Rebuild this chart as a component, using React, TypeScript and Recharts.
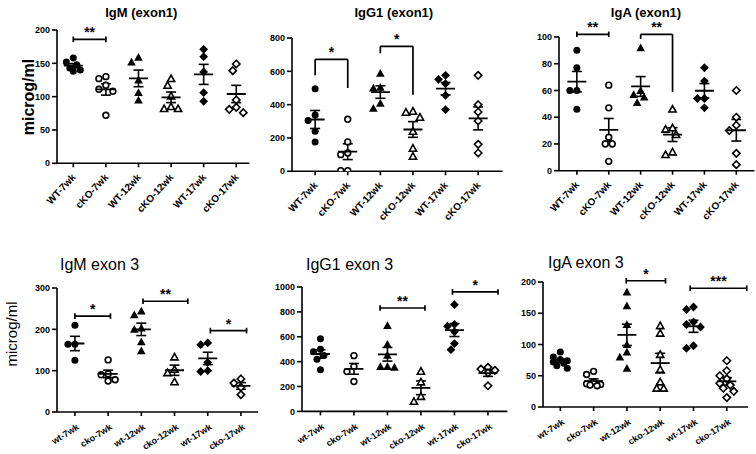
import React from 'react';
import { ScatterChart, Scatter, XAxis, YAxis, ErrorBar, ReferenceLine } from 'recharts';

const FONT = '"Liberation Sans", Arial, Helvetica, sans-serif';

// group names
const exon1Groups = ['WT-7wk', 'cKO-7wk', 'WT-12wk', 'cKO-12wk', 'WT-17wk', 'cKO-17wk'];
const exon3Groups = ['wt-7wk', 'cko-7wk', 'wt-12wk', 'cko-12wk', 'wt-17wk', 'cko-17wk'];

// individual animals, microg/ml
const igmExon1 = [
  [158, 152, 148, 143, 140, 138],
  [130, 127, 117, 111, 108, 72],
  [159, 152, 125, 106, 95],
  [127, 117, 101, 85, 82, 82],
  [171, 160, 137, 106, 93],
  [149, 139, 95, 84, 81, 76],
];
const igg1Exon1 = [
  [496, 338, 305, 240, 176],
  [312, 176, 110, 100, 4, 4],
  [588, 504, 500, 408, 378],
  [360, 354, 324, 240, 138, 90],
  [576, 552, 526, 456, 370],
  [576, 400, 356, 302, 162, 110],
];
const igaExon1 = [
  [90, 77, 60, 60, 46],
  [64, 47, 25, 20, 20, 7],
  [92, 60, 57, 55, 51],
  [46, 32, 31, 27, 14, 12],
  [77, 67, 54, 54, 47],
  [60, 40, 34, 30, 13, 4.5],
];
const igmExon3 = [
  [210, 164, 164, 125],
  [126, 92, 90, 78, 75],
  [244, 235, 203, 200, 170, 148],
  [133, 103, 95, 73],
  [167, 163, 120, 100, 98],
  [80, 70, 60, 42],
];
const igg1Exon3 = [
  [584, 500, 480, 450, 420, 335],
  [448, 360, 320, 240],
  [690, 540, 450, 360, 360, 355],
  [322, 236, 120, 80],
  [858, 700, 685, 640, 545, 496],
  [354, 340, 330, 310, 206],
];
const igaExon3 = [
  [88, 80, 76, 74, 72, 70, 66, 62],
  [57, 52, 40, 37, 36, 35, 34],
  [184, 162, 132, 100, 88, 80, 62],
  [130, 118, 84, 60, 40, 30, 30],
  [160, 156, 136, 132, 128, 98, 94],
  [74, 58, 50, 45, 38, 35, 30, 25, 15],
];

// y ticks
const igmExon1Ticks = [0, 50, 100, 150, 200];
const igg1Exon1Ticks = [0, 200, 400, 600, 800];
const igaExon1Ticks = [0, 20, 40, 60, 80, 100];
const igmExon3Ticks = [0, 100, 200, 300];
const igg1Exon3Ticks = [0, 200, 400, 600, 800, 1000];
const igaExon3Ticks = [0, 50, 100, 150, 200];

// significance brackets (from/to in group index, y in microg/ml)
type Star = { from: number; to: number; y: number; text: string; leftEnd?: number; rightEnd?: number };
const igmExon1Stars: Star[] = [{ from: 0, to: 1, y: 186, text: '**' }];
const igg1Exon1Stars: Star[] = [
  { from: 0, to: 1, y: 672, leftEnd: 576, rightEnd: 500, text: '*' },
  { from: 2, to: 3, y: 750, leftEnd: 708, rightEnd: 460, text: '*' },
];
const igaExon1Stars: Star[] = [
  { from: 0, to: 1, y: 102, text: '**' },
  { from: 2, to: 3, y: 102, leftEnd: 98.5, rightEnd: 59, text: '**' },
];
const igmExon3Stars: Star[] = [
  { from: 0, to: 1.07, y: 232, text: '*' },
  { from: 2.05, to: 3.4, y: 268, text: '**' },
  { from: 4.08, to: 5.17, y: 197, text: '*' },
];
const igg1Exon3Stars: Star[] = [
  { from: 1.78, to: 3.12, y: 831, text: '**' },
  { from: 3.94, to: 5.3, y: 960, text: '*' },
];
const igaExon3Stars: Star[] = [
  { from: 1.98, to: 3.16, y: 202, text: '*' },
  { from: 3.9, to: 5.6, y: 190, text: '***' },
];

type PanelCfg = {
  groups: string[];
  values: number[][];
  ticks: number[];
  stars: Star[];
  L: number; T: number; R: number; B: number;
  xMin: number; xMax: number;
  top: boolean;
};

const panels: PanelCfg[] = [
  { groups: exon1Groups, values: igmExon1, ticks: igmExon1Ticks, stars: igmExon1Stars, L: 57, T: 30, R: 249.3, B: 163.3, xMin: -0.5, xMax: 5.4, top: true },
  { groups: exon1Groups, values: igg1Exon1, ticks: igg1Exon1Ticks, stars: igg1Exon1Stars, L: 291.7, T: 37.7, R: 502.3, B: 171, xMin: -0.71, xMax: 5.75, top: true },
  { groups: exon1Groups, values: igaExon1, ticks: igaExon1Ticks, stars: igaExon1Stars, L: 559.3, T: 37.3, R: 754.8, B: 171, xMin: -0.56, xMax: 5.57, top: true },
  { groups: exon3Groups, values: igmExon3, ticks: igmExon3Ticks, stars: igmExon3Stars, L: 56.7, T: 287.7, R: 257.9, B: 411.7, xMin: -0.54, xMax: 5.52, top: false },
  { groups: exon3Groups, values: igg1Exon3, ticks: igg1Exon3Ticks, stars: igg1Exon3Stars, L: 301.7, T: 287.3, R: 507.1, B: 411.7, xMin: -0.55, xMax: 5.58, top: false },
  { groups: exon3Groups, values: igaExon3, ticks: igaExon3Ticks, stars: igaExon3Stars, L: 542.7, T: 282.3, R: 747.8, B: 407.3, xMin: -0.52, xMax: 5.64, top: false },
];

const mean = (v: number[]) => v.reduce((a, b) => a + b, 0) / v.length;
const sem = (v: number[]) => {
  const m = mean(v);
  const sd = Math.sqrt(v.reduce((a, b) => a + (b - m) ** 2, 0) / (v.length - 1));
  return sd / Math.sqrt(v.length);
};

// simple beeswarm: push overlapping dots sideways, but keep the cluster narrow
// (dense groups are allowed to overlap, like the original). Offsets in group units.
function swarm(values: number[], pxPerUnit: number, pxPerCat: number) {
  const order = values.map((_, i) => i).sort((a, b) => values[b] - values[a]);
  const placed: { dx: number; py: number }[] = [];
  const out = new Array(values.length).fill(0);
  for (const i of order) {
    const py = values[i] * pxPerUnit;
    let best = 0;
    let bestGap = -1;
    for (let k = 0; k < 5; k++) {
      const dx = (k % 2 ? -1 : 1) * Math.ceil(k / 2) * 3.5;
      const gap = placed.reduce((g, p) => Math.min(g, Math.hypot(p.dx - dx, p.py - py)), 99);
      if (gap >= 7) {
        best = dx;
        break;
      }
      if (gap > bestGap) {
        bestGap = gap;
        best = dx;
      }
    }
    placed.push({ dx: best, py });
    out[i] = best / pxPerCat;
  }
  return out;
}

const marker = (kind: string, filled: boolean) => (p: any) => {
  const { cx, cy } = p;
  const fill = filled ? '#000' : '#fff';
  const sw = filled ? 0 : 1.6;
  if (kind === 'circle') {
    return <circle cx={cx} cy={cy} r={filled ? 3.5 : 2.9} fill={fill} stroke="#000" strokeWidth={sw} />;
  }
  if (kind === 'triangle') {
    const s = filled ? 4.3 : 3.6;
    return (
      <polygon
        points={`${cx},${cy - s} ${cx + s},${cy + s * 0.8} ${cx - s},${cy + s * 0.8}`}
        fill={fill} stroke="#000" strokeWidth={sw} strokeLinejoin="miter"
      />
    );
  }
  const d = filled ? 4.4 : 3.7;
  return (
    <polygon
      points={`${cx},${cy - d} ${cx + d},${cy} ${cx},${cy + d} ${cx - d},${cy}`}
      fill={fill} stroke="#000" strokeWidth={sw}
    />
  );
};

const markers = [
  marker('circle', true),
  marker('circle', false),
  marker('triangle', true),
  marker('triangle', false),
  marker('diamond', true),
  marker('diamond', false),
];

const MeanLine = (p: any) => (
  <line x1={p.cx - 9.5} x2={p.cx + 9.5} y1={p.cy} y2={p.cy} stroke="#000" strokeWidth={1.8} />
);

const makeTick = (labels: string[], top: boolean) => (props: any) => {
  const { x, y, payload } = props;
  const px = top ? x + 0.5 : x + 3;
  const py = top ? y + 6 : y + 8;
  const angle = top ? -47 : -32;
  return (
    <text
      x={px}
      y={py}
      dy="0.35em"
      textAnchor="end"
      transform={`rotate(${angle}, ${px}, ${py})`}
      fontSize={top ? 10 : 9}
      fontWeight="bold"
      fontFamily={FONT}
      fill="#000"
    >
      {labels[payload.value]}
    </text>
  );
};

const lineStyle = { stroke: '#000', strokeWidth: 1.6 };

function Panel({ cfg }: { cfg: PanelCfg }) {
  const { L, T, R, B } = cfg;
  const yMax = cfg.ticks[cfg.ticks.length - 1];
  const plotW = R - L;
  const plotH = B - T;
  const pxPerCat = plotW / (cfg.xMax - cfg.xMin);
  const pxPerUnit = plotH / yMax;
  const cap = 2.8 / pxPerUnit;
  const means = cfg.values.map((v, i) => ({ x: i, y: mean(v), sem: sem(v) }));

  return (
    <div style={{ position: 'absolute', left: L - 50, top: T - 30 }}>
      <ScatterChart width={plotW + 58} height={plotH + 90} margin={{ top: 30, right: 8, bottom: 30, left: 0 }}>
        <XAxis
          type="number"
          dataKey="x"
          domain={[cfg.xMin, cfg.xMax]}
          ticks={[0, 1, 2, 3, 4, 5]}
          interval={0}
          allowDataOverflow
          height={30}
          tickSize={4}
          axisLine={lineStyle}
          tickLine={lineStyle}
          tick={makeTick(cfg.groups, cfg.top)}
        />
        <YAxis
          type="number"
          dataKey="y"
          domain={[0, yMax]}
          ticks={cfg.ticks}
          interval={0}
          allowDataOverflow
          width={50}
          tickSize={5}
          tickMargin={2}
          axisLine={lineStyle}
          tickLine={lineStyle}
          tick={{ fill: '#000', fontSize: 9, fontWeight: 'bold', fontFamily: FONT }}
        />
        {cfg.values.map((vals, g) => {
          const dx = swarm(vals, pxPerUnit, pxPerCat);
          return (
            <Scatter
              key={g}
              data={vals.map((y, j) => ({ x: g + dx[j], y }))}
              shape={markers[g]}
              isAnimationActive={false}
            />
          );
        })}
        <Scatter data={means} shape={MeanLine} isAnimationActive={false}>
          <ErrorBar dataKey="sem" direction="y" width={5} stroke="#000" strokeWidth={1.6} />
        </Scatter>
        {cfg.stars.map((s, i) => {
          const down = s.leftEnd !== undefined;
          const leftEnd = down ? s.leftEnd! : s.y;
          const rightEnd = down ? s.rightEnd! : s.y;
          return (
            <React.Fragment key={i}>
              <ReferenceLine
                segment={[{ x: s.from, y: s.y }, { x: s.to, y: s.y }]}
                ifOverflow="visible"
                stroke="#000"
                strokeWidth={1.7}
                label={{ value: s.text, position: 'top', offset: 2, fill: '#000', fontSize: 14, fontWeight: 'bold', fontFamily: FONT }}
              />
              <ReferenceLine
                segment={[{ x: s.from, y: down ? s.y : s.y + cap }, { x: s.from, y: down ? leftEnd : s.y - cap }]}
                ifOverflow="visible"
                stroke="#000"
                strokeWidth={1.7}
              />
              <ReferenceLine
                segment={[{ x: s.to, y: down ? s.y : s.y + cap }, { x: s.to, y: down ? rightEnd : s.y - cap }]}
                ifOverflow="visible"
                stroke="#000"
                strokeWidth={1.7}
              />
            </React.Fragment>
          );
        })}
      </ScatterChart>
    </div>
  );
}

const titleTop = { position: 'absolute' as const, fontFamily: FONT, fontWeight: 'bold' as const, fontSize: 13, width: 140, textAlign: 'center' as const, lineHeight: '16px' };
const titleBottom = { position: 'absolute' as const, fontFamily: FONT, fontSize: 16, lineHeight: '18px', whiteSpace: 'nowrap' as const };

export default function App() {
  return (
    <div style={{ position: 'absolute', left: 0, top: 0, width: 756, height: 454, overflow: 'hidden', background: '#fff', color: '#000' }}>
      {panels.map((p, i) => (
        <Panel key={i} cfg={p} />
      ))}

      <div style={{ ...titleTop, left: 141.3 - 70, top: 5 }}>IgM (exon1)</div>
      <div style={{ ...titleTop, left: 393.8 - 70, top: 5 }}>IgG1 (exon1)</div>
      <div style={{ ...titleTop, left: 646 - 70, top: 5 }}>IgA (exon1)</div>

      <div style={{ ...titleBottom, left: 60, top: 256 }}>IgM exon 3</div>
      <div style={{ ...titleBottom, left: 306, top: 256 }}>IgG1 exon 3</div>
      <div style={{ ...titleBottom, left: 548, top: 254 }}>IgA exon 3</div>

      <div
        style={{
          position: 'absolute', left: 28.5, top: 96.7, transform: 'translate(-50%, -50%) rotate(-90deg)',
          fontFamily: FONT, fontWeight: 'bold', fontSize: 16, whiteSpace: 'nowrap',
        }}
      >
        microg/ml
      </div>
      <div
        style={{
          position: 'absolute', left: 11, top: 334, transform: 'translate(-50%, -50%) rotate(-90deg)',
          fontFamily: FONT, fontSize: 15, whiteSpace: 'nowrap',
        }}
      >
        microg/ml
      </div>
    </div>
  );
}
